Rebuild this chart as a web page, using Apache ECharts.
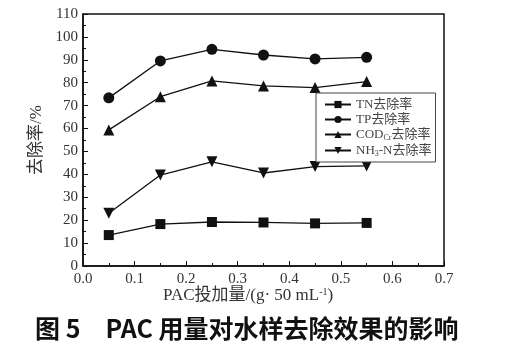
<!DOCTYPE html>
<html><head><meta charset="utf-8">
<script src="https://cdn.jsdelivr.net/npm/echarts@6/dist/echarts.min.js"></script>
<style>html,body{margin:0;padding:0;background:#fff}#c{width:517px;height:351px}</style>
</head><body><div id="c"></div>
<script>
const doses = [0.05, 0.15, 0.25, 0.35, 0.45, 0.55];
const tnRemoval = [13.5, 18.3, 19.2, 19.0, 18.6, 18.8];
const tpRemoval = [73.4, 89.5, 94.6, 92.1, 90.4, 91.1];
const codRemoval = [59.4, 73.9, 80.8, 78.6, 77.9, 80.5];
const nh3Removal = [23.0, 39.7, 45.5, 40.6, 43.4, 43.7];
const seriesNames = ['TN去除率', 'TP去除率', 'CODCr去除率', 'NH3-N去除率'];
const xTicks = { min: 0, max: 0.7, interval: 0.1 };
const yTicks = { min: 0, max: 110, interval: 10 };

const serif = '"Liberation Serif","Noto Sans CJK SC",serif';
const pair = a => doses.map((d, i) => [d, a[i]]);
const invTri = 'path://M0,0 L10,0 L5,9 Z';
const mk = (name, data, symbol, size) => ({
  name, type: 'line', data: pair(data), symbol, symbolSize: size,
  itemStyle: { color: '#111' }, lineStyle: { color: '#111', width: 1.3 }
});
const chart = echarts.init(document.getElementById('c'));
chart.setOption({
  animation: false,
  grid: { left: 83, right: 73, top: 14, bottom: 85, show: true, borderColor: '#111', borderWidth: 1.5, backgroundColor: 'transparent' },
  xAxis: {
    type: 'value', min: xTicks.min, max: xTicks.max, interval: xTicks.interval,
    axisLine: { lineStyle: { color: '#111', width: 1.5 } },
    axisTick: { inside: true, length: 5, lineStyle: { color: '#111' } },
    minorTick: { show: true, splitNumber: 2, length: 3, lineStyle: { color: '#111' } },
    splitLine: { show: false },
    axisLabel: { fontFamily: serif, fontSize: 15, color: '#333', margin: 6, formatter: v => v.toFixed(1) }
  },
  yAxis: {
    type: 'value', min: yTicks.min, max: yTicks.max, interval: yTicks.interval,
    axisLine: { lineStyle: { color: '#111', width: 1.5 } },
    axisTick: { inside: true, length: 5, lineStyle: { color: '#111' } },
    minorTick: { show: true, splitNumber: 2, length: 3, lineStyle: { color: '#111' } },
    splitLine: { show: false },
    axisLabel: { fontFamily: serif, fontSize: 15, color: '#333', margin: 5 },
    name: '去除率/%', nameLocation: 'middle', nameGap: 33, nameRotate: 90,
    nameTextStyle: { fontFamily: serif, fontSize: 17, color: '#333' }
  },
  legend: {
    orient: 'vertical', left: 316, top: 93, width: 116,
    padding: [5, 4, 4, 8], itemGap: 2, itemWidth: 26, itemHeight: 9,
    borderColor: '#444', borderWidth: 1, backgroundColor: '#fff',
    data: seriesNames,
    formatter: n => {
      if (n === 'CODCr去除率') return '{a|COD}{s|Cr}{a|去除率}';
      if (n === 'NH3-N去除率') return '{a|NH}{s|3}{a|-N去除率}';
      return '{a|' + n + '}';
    },
    textStyle: {
      color: '#444', fontFamily: serif, fontSize: 13,
      rich: {
        a: { fontFamily: serif, fontSize: 13, color: '#444' },
        s: { fontFamily: serif, fontSize: 8, color: '#444', verticalAlign: 'bottom', padding: [7, 0, 0, 0] }
      }
    }
  },
  graphic: [
    { type: 'text', left: 163, top: 287, style: {
      text: '{a|PAC投加量/(g· 50 mL}{sup|-1}{a|)}',
      rich: { a: { fontFamily: serif, fontSize: 17, fill: '#333' }, sup: { fontFamily: serif, fontSize: 10, fill: '#333', verticalAlign: 'top', padding: [0, 0, 7, 0] } }
    } },
    { type: 'text', left: 35, top: 316, style: {
      text: '图 5　PAC 用量对水样去除效果的影响',
      font: 'bold 25px "Noto Sans CJK SC", sans-serif', fill: '#111'
    } }
  ],
  series: [
    mk(seriesNames[0], tnRemoval, 'rect', 10),
    mk(seriesNames[1], tpRemoval, 'circle', 11),
    mk(seriesNames[2], codRemoval, 'triangle', 11),
    mk(seriesNames[3], nh3Removal, invTri, 11)
  ]
});
</script></body></html>
